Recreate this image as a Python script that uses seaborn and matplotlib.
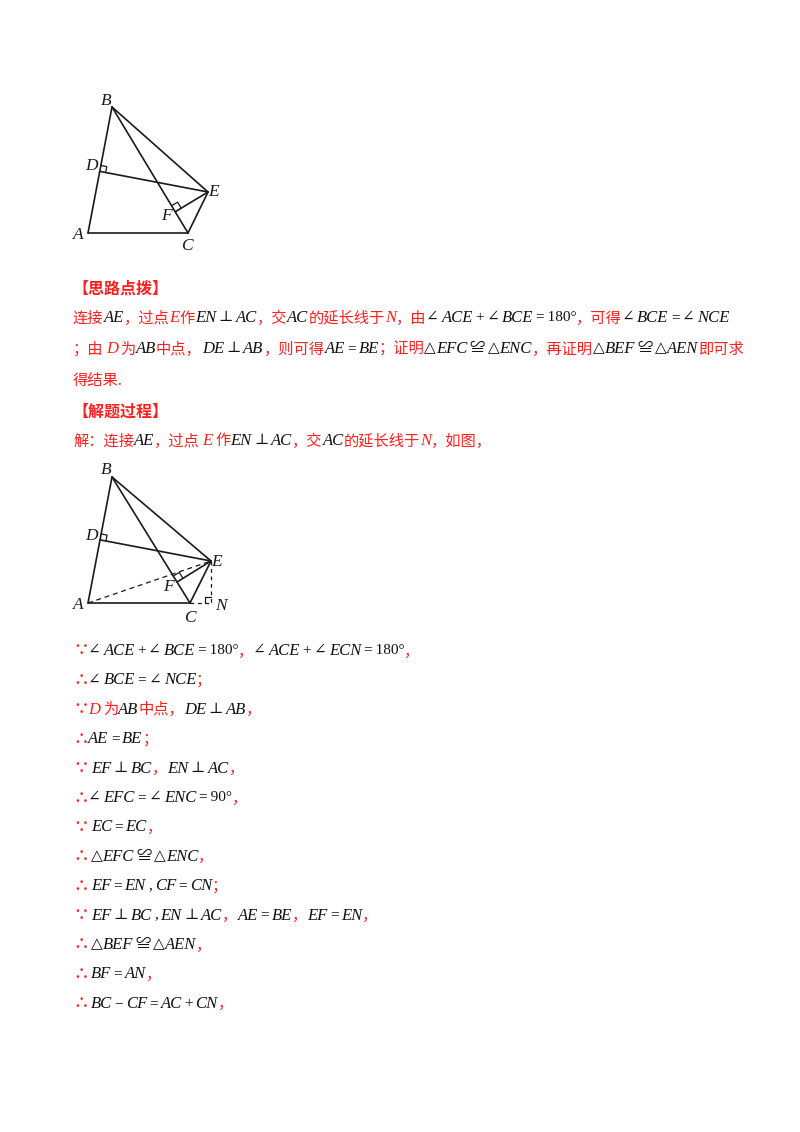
import matplotlib
matplotlib.use("Agg")
import matplotlib.pyplot as plt
import seaborn as sns
import numpy as np

sns.set_theme(style="white")
plt.rcParams['font.family'] = ['Noto Sans CJK SC', 'DejaVu Sans']

RED = "#ff2020"
BLACK = "#111111"

# ---------- diagram data (page pixel coords) ----------
pts1 = {"A": (88, 233), "B": (112, 107), "C": (188, 233), "E": (208, 192)}
pts2 = {"A": (88, 603), "B": (112, 477), "C": (190, 603), "E": (211, 561)}
labels1 = {"B": (106, 101), "D": (91, 166), "E": (214, 192), "F": (166, 216), "A": (78, 235), "C": (187, 246)}
labels2 = {"B": (106, 470), "D": (91, 536), "E": (217, 562), "F": (168, 587), "A": (78, 605), "C": (190, 618), "N": (221, 606)}

# ---------- text data ----------
# kinds: c = red CJK, m = black italic math, r = red italic math, s = black upright symbol, t = red symbol
head1 = "【思路点拨】"
head2 = "【解题过程】"
para = [
    (316, [("连接", "c"), ("AE", "m"), ("，过点", "c"), ("E", "r"), ("作", "c"), ("EN", "m"), (" ⊥ ", "s"), ("AC", "m"),
           ("，交", "c"), ("AC", "m"), ("的延长线于", "c"), ("N", "r"), ("，由", "c"), ("∠ ", "s"), ("ACE", "m"), (" + ", "s"),
           ("∠ ", "s"), ("BCE", "m"), (" = 180°", "s"), ("，可得", "c"), ("∠ ", "s"), ("BCE", "m"), (" = ", "s"), ("∠ ", "s"), ("NCE", "m")]),
    (347, [("；由", "c"), (" D ", "r"), ("为", "c"), ("AB", "m"), ("中点，", "c"), ("DE", "m"), (" ⊥ ", "s"), ("AB", "m"),
           ("，则可得", "c"), ("AE", "m"), (" = ", "s"), ("BE", "m"), ("；证明", "c"), ("△", "s"), ("EFC", "m"), (" ≌ ", "s"),
           ("△", "s"), ("ENC", "m"), ("，再证明", "c"), ("△", "s"), ("BEF", "m"), (" ≌ ", "s"), ("△", "s"), ("AEN", "m"), ("即可求", "c")]),
    (378, [("得结果.", "c")]),
    (439, [("解：连接", "c"), ("AE", "m"), ("，过点", "c"), (" E ", "r"), ("作", "c"), ("EN", "m"), (" ⊥ ", "s"), ("AC", "m"),
           ("，交", "c"), ("AC", "m"), ("的延长线于", "c"), ("N", "r"), ("，如图，", "c")]),
]
proof = [
    [("∵", "t"), ("∠ ", "s"), ("ACE", "m"), (" + ", "s"), ("∠ ", "s"), ("BCE", "m"), (" = 180°", "s"), ("，", "c"),
     ("∠ ", "s"), ("ACE", "m"), (" + ", "s"), ("∠ ", "s"), ("ECN", "m"), (" = 180°", "s"), ("，", "c")],
    [("∴", "t"), ("∠ ", "s"), ("BCE", "m"), (" = ", "s"), ("∠ ", "s"), ("NCE", "m"), ("；", "c")],
    [("∵", "t"), ("D ", "r"), ("为", "c"), ("AB", "m"), ("中点，", "c"), ("DE", "m"), (" ⊥ ", "s"), ("AB", "m"), ("，", "c")],
    [("∴", "t"), ("AE", "m"), (" = ", "s"), ("BE", "m"), ("；", "c")],
    [("∵", "t"), (" EF", "m"), (" ⊥ ", "s"), ("BC", "m"), ("，", "c"), ("EN", "m"), (" ⊥ ", "s"), ("AC", "m"), ("，", "c")],
    [("∴", "t"), ("∠ ", "s"), ("EFC", "m"), (" = ", "s"), ("∠ ", "s"), ("ENC", "m"), (" = 90°", "s"), ("，", "c")],
    [("∵", "t"), (" EC", "m"), (" = ", "s"), ("EC", "m"), ("，", "c")],
    [("∴", "t"), (" △", "s"), ("EFC", "m"), (" ≌ ", "s"), ("△", "s"), ("ENC", "m"), ("，", "c")],
    [("∴", "t"), (" EF", "m"), (" = ", "s"), ("EN", "m"), (" , ", "s"), ("CF", "m"), (" = ", "s"), ("CN", "m"), ("；", "c")],
    [("∵", "t"), (" EF", "m"), (" ⊥ ", "s"), ("BC", "m"), (" , ", "s"), ("EN", "m"), (" ⊥ ", "s"), ("AC", "m"), ("，", "c"),
     ("AE", "m"), (" = ", "s"), ("BE", "m"), ("，", "c"), ("EF", "m"), (" = ", "s"), ("EN", "m"), ("，", "c")],
    [("∴", "t"), (" △", "s"), ("BEF", "m"), (" ≌ ", "s"), ("△", "s"), ("AEN", "m"), ("，", "c")],
    [("∴", "t"), (" BF", "m"), (" = ", "s"), ("AN", "m"), ("，", "c")],
    [("∴", "t"), (" BC", "m"), (" − ", "s"), ("CF", "m"), (" = ", "s"), ("AC", "m"), (" + ", "s"), ("CN", "m"), ("，", "c")],
]
proof_y0, proof_dy = 649, 29.4

W, H = 800, 1132
fig = plt.figure(figsize=(W / 100, H / 100), dpi=100)
fig.patch.set_facecolor("white")
ax = fig.add_axes([0, 0, 1, 1])
ax.set_xlim(0, W)
ax.set_ylim(H, 0)
ax.axis("off")

SERIF = ['Liberation Serif', 'DejaVu Serif', 'Noto Sans CJK SC', 'DejaVu Sans']
CJK = ['Noto Sans CJK SC', 'DejaVu Sans']


def foot(P, A, B):
    P, A, B = map(np.array, (P, A, B))
    d = B - A
    t = np.dot(P - A, d) / np.dot(d, d)
    return A + t * d


def right_mark(ax, F, along, toward, s=7):
    F = np.array(F)
    u = np.array(along, float); u /= np.linalg.norm(u)
    v = np.array(toward, float); v /= np.linalg.norm(v)
    p1 = F + u * s
    p2 = F + u * s + v * s
    p3 = F + v * s
    ax.plot([p1[0], p2[0], p3[0]], [p1[1], p2[1], p3[1]], color="k", lw=0.9)


def diagram(pts, labels, second=False):
    A, B, C, E = (np.array(pts[k], float) for k in "ABCE")
    D = foot(E, A, B)
    F = foot(E, B, C)
    lw = 1.2
    for P, Q in [(A, B), (A, C), (B, C), (B, E), (D, E), (E, C), (E, F)]:
        ax.plot([P[0], Q[0]], [P[1], Q[1]], color="k", lw=lw, solid_capstyle="round")
    right_mark(ax, D, B - A, E - D, 6)
    right_mark(ax, F, B - C, E - F, 7)
    if second:
        N = np.array([E[0], A[1]])
        ax.plot([A[0], E[0]], [A[1], E[1]], color="k", lw=0.9, ls=(0, (4, 3)))
        ax.plot([C[0], N[0]], [C[1], N[1]], color="k", lw=0.9, ls=(0, (3, 3)))
        ax.plot([E[0], N[0]], [E[1], N[1]], color="k", lw=0.9, ls=(0, (3, 3)))
        right_mark(ax, N, C - N, E - N, 6)
    for k, (x, y) in labels.items():
        ax.text(x, y, k, fontsize=12.5, family=SERIF, style="italic", ha="center", va="center", color="k")


diagram(pts1, labels1)
diagram(pts2, labels2, second=True)

renderer = fig.canvas.get_renderer()


def runs(x, y, items):
    for txt, kind in items:
        pad_l = 2.5 if txt.startswith(" ") else 0
        pad_r = 2.5 if txt.endswith(" ") else 0
        txt = txt.strip()
        if kind == "c":
            kw = dict(family=CJK, color=RED, fontsize=11)
        elif kind == "t":
            kw = dict(family=CJK, color=RED, fontsize=11, weight="bold")
        elif kind == "m":
            kw = dict(family=SERIF, style="italic", color=BLACK, fontsize=12)
        elif kind == "r":
            kw = dict(family=SERIF, style="italic", color=RED, fontsize=12)
        else:
            kw = dict(family=SERIF, color=BLACK, fontsize=11)
            txt = txt.replace(" ", "\u2009")
        x += pad_l
        t = ax.text(x, y, txt, ha="left", va="center_baseline", **kw)
        x += t.get_window_extent(renderer).width + pad_r


ax.text(72, 287, head1, family=CJK, color=RED, fontsize=11.5, weight="bold", va="center_baseline")
ax.text(72, 410, head2, family=CJK, color=RED, fontsize=11.5, weight="bold", va="center_baseline")
for y, items in para:
    runs(73, y, items)
for i, items in enumerate(proof):
    runs(73, proof_y0 + i * proof_dy, items)

fig.savefig("out.png", dpi=100, facecolor="white")
